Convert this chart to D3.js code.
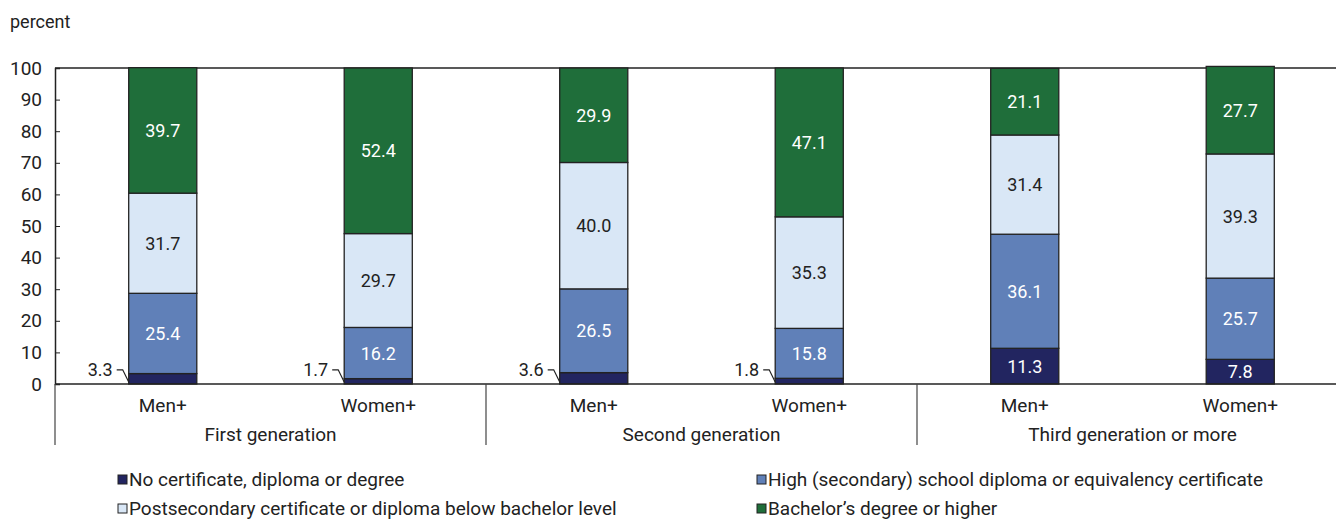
<!DOCTYPE html>
<html>
<head>
<meta charset="utf-8">
<script src="https://cdn.jsdelivr.net/npm/d3@7"></script>
<style>
body { margin: 0; background: #fff; }
text { font-family: Roboto, "Liberation Sans", sans-serif; }
</style>
</head>
<body>
<div id="viz"></div>
<script>
// data
var groups = ['First generation', 'Second generation', 'Third generation or more'];
var sexes = ['Men+', 'Women+'];
var series = ['No certificate, diploma or degree',
  'High (secondary) school diploma or equivalency certificate',
  'Postsecondary certificate or diploma below bachelor level',
  'Bachelor\u2019s degree or higher'];
var noCert = [3.3, 1.7, 3.6, 1.8, 11.3, 7.8];
var highSchool = [25.4, 16.2, 26.5, 15.8, 36.1, 25.7];
var postSec = [31.7, 29.7, 40.0, 35.3, 31.4, 39.3];
var bachelor = [39.7, 52.4, 29.9, 47.1, 21.1, 27.7];
var yTicks = [0, 10, 20, 30, 40, 50, 60, 70, 80, 90, 100];

var colors = ['#222560', '#6080b8', '#d9e7f6', '#1f6e3a'];
var textColors = ['#fff', '#fff', '#222', '#fff'];

var W = 1336, H = 521;
var mLeft = 55, mRight = 1348, mTop = 68, mBottom = 384;
var fs = 19;

var svg = d3.select('#viz').append('svg')
  .attr('width', W).attr('height', H);

// build rows for the stack
var rows = [];
groups.forEach(function(g, gi) {
  sexes.forEach(function(s, si) {
    var i = gi * 2 + si;
    rows.push({key: g + '|' + s, group: g, sex: s,
      s0: noCert[i], s1: highSchool[i], s2: postSec[i], s3: bachelor[i]});
  });
});

var stack = d3.stack().keys(['s0', 's1', 's2', 's3'])(rows);

var x = d3.scaleBand()
  .domain(rows.map(function(d) { return d.key; }))
  .range([mLeft, mRight])
  .paddingInner(0.684)
  .paddingOuter(0.342);

var xg = d3.scaleBand().domain(groups).range([mLeft, mRight]);

var y = d3.scaleLinear().domain([0, 100]).range([mBottom, mTop]);

// top line at 100
svg.append('line')
  .attr('x1', mLeft).attr('x2', W)
  .attr('y1', y(100)).attr('y2', y(100))
  .attr('stroke', '#222').attr('stroke-width', 1.5);

// y axis
var yAxis = svg.append('g')
  .attr('transform', 'translate(' + mLeft + ',0)')
  .call(d3.axisLeft(y).tickValues(yTicks).tickSize(-5).tickPadding(13));
yAxis.select('.domain').attr('stroke', '#222').attr('stroke-width', 1.5);
yAxis.selectAll('.tick line').attr('stroke', '#222');
yAxis.selectAll('.tick text')
  .attr('font-size', fs).attr('fill', '#222')
  .attr('font-family', 'Roboto, sans-serif');

svg.append('text')
  .attr('x', 10).attr('y', 28)
  .attr('font-size', 18).attr('fill', '#222')
  .text('percent');

// bars
var layer = svg.selectAll('g.layer').data(stack).enter().append('g')
  .attr('class', 'layer');

layer.selectAll('rect').data(function(d, li) {
    return d.map(function(p) { return {p: p, li: li}; });
  })
  .enter().append('rect')
  .attr('x', function(d) { return x(d.p.data.key); })
  .attr('width', x.bandwidth())
  .attr('y', function(d) { return y(d.p[1]); })
  .attr('height', function(d) { return y(d.p[0]) - y(d.p[1]); })
  .attr('fill', function(d) { return colors[d.li]; })
  .attr('stroke', '#222')
  .attr('stroke-width', 1.3);

// value labels
layer.each(function(L, li) {
  d3.select(this).selectAll('text').data(L).enter().append('text')
    .each(function(p) {
      var v = p[1] - p[0];
      var t = d3.select(this).attr('font-size', 18).text(v.toFixed(1));
      if (li === 0 && v < 5) {
        var bx = x(p.data.key);
        t.attr('x', bx - 16).attr('y', y(4.5) + 6)
          .attr('text-anchor', 'end').attr('fill', '#222');
        svg.append('path')
          .attr('d', 'M' + (bx - 12) + ',' + y(4.5) + 'H' + (bx - 6) + 'L' + bx + ',' + (y(0) - 2))
          .attr('fill', 'none').attr('stroke', '#222').attr('stroke-width', 1.2);
      } else {
        t.attr('x', x(p.data.key) + x.bandwidth() / 2)
          .attr('y', (y(p[0]) + y(p[1])) / 2 + 6.5)
          .attr('text-anchor', 'middle')
          .attr('fill', textColors[li]);
      }
    });
});

// baseline
svg.append('line')
  .attr('x1', mLeft).attr('x2', W)
  .attr('y1', y(0)).attr('y2', y(0))
  .attr('stroke', '#222').attr('stroke-width', 1.5);

// category axis: sex labels and group labels
svg.selectAll('text.sex').data(rows).enter().append('text')
  .attr('class', 'sex')
  .attr('x', function(d) { return x(d.key) + x.bandwidth() / 2; })
  .attr('y', 412)
  .attr('text-anchor', 'middle')
  .attr('font-size', fs).attr('fill', '#222')
  .text(function(d) { return d.sex; });

svg.selectAll('text.grp').data(groups).enter().append('text')
  .attr('class', 'grp')
  .attr('x', function(d) { return xg(d) + xg.bandwidth() / 2; })
  .attr('y', 441)
  .attr('text-anchor', 'middle')
  .attr('font-size', fs).attr('fill', '#222')
  .text(function(d) { return d; });

svg.selectAll('line.sep').data(groups).enter().append('line')
  .attr('class', 'sep')
  .attr('x1', function(d) { return xg(d); })
  .attr('x2', function(d) { return xg(d); })
  .attr('y1', y(0)).attr('y2', 445)
  .attr('stroke', '#444').attr('stroke-width', 1.2);

// legend
var legPos = [[118, 479], [757, 479], [118, 508], [757, 508]];
var leg = svg.selectAll('g.leg').data(series).enter().append('g')
  .attr('class', 'leg')
  .attr('transform', function(d, i) { return 'translate(' + legPos[i][0] + ',' + legPos[i][1] + ')'; });
leg.append('rect')
  .attr('x', 0).attr('y', -4).attr('width', 9).attr('height', 9)
  .attr('fill', function(d, i) { return colors[i]; })
  .attr('stroke', '#222').attr('stroke-width', 1);
leg.append('text')
  .attr('x', 11).attr('y', 7)
  .attr('font-size', fs).attr('fill', '#222')
  .text(function(d) { return d; });
</script>
</body>
</html>
